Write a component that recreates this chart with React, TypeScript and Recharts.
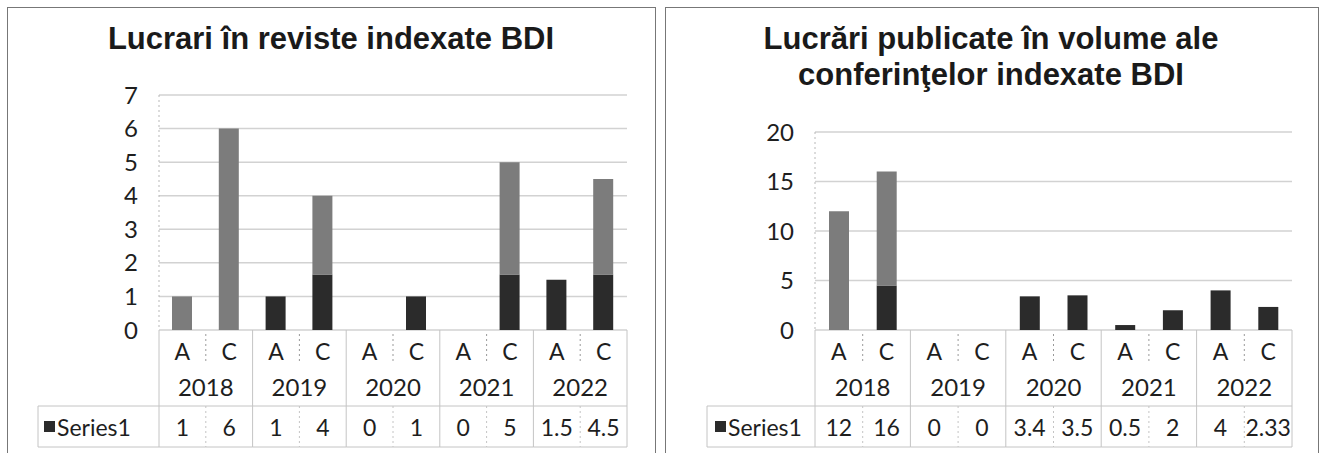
import React from "react";
import { BarChart, Bar, XAxis, YAxis, CartesianGrid } from "recharts";

const years = ["2018", "2018", "2019", "2019", "2020", "2020", "2021", "2021", "2022", "2022"];
const types = ["A", "C", "A", "C", "A", "C", "A", "C", "A", "C"];

// Lucrari in reviste indexate BDI
const journalValues = [1, 6, 1, 4, 0, 1, 0, 5, 1.5, 4.5];
// the scan prints each bar in two tones: dark lower part, grey upper part
const journalDarkTone = [0, 0, 1, 1.65, 0, 1, 0, 1.65, 1.5, 1.65];
const journalLightTone = [1, 6, 0, 2.35, 0, 0, 0, 3.35, 0, 2.85];
const journalTicks = [0, 1, 2, 3, 4, 5, 6, 7];

// Lucrari publicate in volume ale conferintelor indexate BDI
const conferenceValues = [12, 16, 0, 0, 3.4, 3.5, 0.5, 2, 4, 2.33];
const conferenceDarkTone = [0, 4.5, 0, 0, 3.4, 3.5, 0.5, 2, 4, 2.33];
const conferenceLightTone = [12, 11.5, 0, 0, 0, 0, 0, 0, 0, 0];
const conferenceTicks = [0, 5, 10, 15, 20];

const DARK = "#2b2b2b";
const LIGHT = "#7c7c7c";
const LINE = "#c4c4c4";
const TEXT = "#1e1e1e";
const FONT = "Lato, 'Open Sans', sans-serif";

const ROW1 = 38; // A / C row
const ROW2 = 38; // year row
const ROW3 = 41; // data table row
const HEIGHT = 453;
const PLOT_BOTTOM = 330;

interface PanelProps {
  left: number;
  width: number;
  titleLines: string[];
  values: number[];
  dark: number[];
  light: number[];
  ticks: number[];
  plotLeft: number;
  plotRight: number;
  plotTop: number;
  legendLeft: number;
  legendSquare: number;
}

function Panel(p: PanelProps) {
  const colW = (p.plotRight - p.plotLeft) / years.length;
  const data = years.map((y, i) => ({
    key: `${y}-${types[i]}`,
    dark: p.dark[i],
    light: p.light[i],
  }));
  const yMax = p.ticks[p.ticks.length - 1];

  const TypeTick = ({ x, y, index }: any) => {
    const half = colW / 2;
    return (
      <g>
        <text x={x} y={y + 21} textAnchor="middle" dominantBaseline="central"
          fontSize={23} fontFamily={FONT} fill={TEXT}>
          {types[index]}
        </text>
        {index % 2 === 0 ? (
          <line x1={x + half} x2={x + half} y1={y + 4} y2={y + ROW1 - 6}
            stroke="#999" strokeDasharray="2 3" />
        ) : (
          <line x1={x + half} x2={x + half} y1={y} y2={y + ROW1 + ROW2}
            stroke={LINE} />
        )}
        {index === 0 && (
          <line x1={x - half} x2={x - half} y1={y} y2={y + ROW1 + ROW2}
            stroke={LINE} />
        )}
      </g>
    );
  };

  const YearTick = ({ x, y, index }: any) => {
    if (index % 2 !== 0) return <g />;
    return (
      <text x={x + colW / 2} y={y + 18} textAnchor="middle" dominantBaseline="central"
        fontSize={24} fontFamily={FONT} fill={TEXT}>
        {years[index]}
      </text>
    );
  };

  const ValueTick = ({ x, y, index }: any) => {
    const half = colW / 2;
    return (
      <g>
        <line x1={x - half} x2={x + half} y1={y} y2={y} stroke={LINE} />
        <line x1={x - half} x2={x + half} y1={y + ROW3} y2={y + ROW3} stroke={LINE} />
        <line x1={x + half} x2={x + half} y1={y} y2={y + ROW3} stroke={LINE}
          strokeDasharray={index % 2 === 0 ? "2 3" : undefined} />
        <text x={x} y={y + 21} textAnchor="middle" dominantBaseline="central"
          fontSize={23} fontFamily={FONT} fill={TEXT}>
          {String(p.values[index])}
        </text>
        {index === 0 && (
          <g>
            <line x1={p.legendLeft} x2={x - half} y1={y} y2={y} stroke={LINE} />
            <line x1={p.legendLeft} x2={x - half} y1={y + ROW3} y2={y + ROW3} stroke={LINE} />
            <line x1={p.legendLeft} x2={p.legendLeft} y1={y} y2={y + ROW3} stroke={LINE} />
            <line x1={x - half} x2={x - half} y1={y} y2={y + ROW3} stroke={LINE} />
            <rect x={p.legendSquare} y={y + 15} width={11} height={11} fill={DARK} />
            <text x={p.legendSquare + 13} y={y + 21} dominantBaseline="central"
              fontSize={23} fontFamily={FONT} fill={TEXT}>
              Series1
            </text>
          </g>
        )}
      </g>
    );
  };

  return (
    <div style={{ position: "absolute", left: p.left, top: 0, width: p.width, height: HEIGHT }}>
      <div
        style={{
          position: "absolute",
          left: 0,
          top: 21,
          width: p.width,
          textAlign: "center",
          fontFamily: "'Liberation Sans', Arial, sans-serif",
          fontWeight: "bold",
          fontSize: 31,
          lineHeight: "36px",
          color: "#1a1a1a",
        }}
      >
        {p.titleLines.map((t) => (
          <div key={t}>{t}</div>
        ))}
      </div>
      <BarChart
        width={p.width}
        height={HEIGHT}
        data={data}
        margin={{
          top: p.plotTop,
          right: p.width - p.plotRight,
          bottom: HEIGHT - PLOT_BOTTOM - ROW1 - ROW2 - ROW3,
          left: 0,
        }}
        barSize={20}
      >
        <CartesianGrid xAxisId="r1" vertical={false} stroke="#d2d2d2" strokeWidth={1.5} />
        <YAxis
          type="number"
          domain={[0, yMax]}
          ticks={p.ticks}
          interval={0}
          width={p.plotLeft}
          tickLine={false}
          tickSize={0}
          tickMargin={21}
          axisLine={{ stroke: "#b8b8b8", strokeDasharray: "2 3" }}
          tick={{ fontSize: 24, fill: TEXT, fontFamily: FONT }}
        />
        <XAxis xAxisId="r1" dataKey="key" height={ROW1} interval={0} axisLine={false}
          tickLine={false} tickSize={0} tickMargin={0} tick={<TypeTick />} />
        <XAxis xAxisId="r2" dataKey="key" height={ROW2} interval={0} axisLine={false}
          tickLine={false} tickSize={0} tickMargin={0} tick={<YearTick />} />
        <XAxis xAxisId="r3" dataKey="key" height={ROW3} interval={0} axisLine={false}
          tickLine={false} tickSize={0} tickMargin={0} tick={<ValueTick />} />
        <Bar xAxisId="r1" dataKey="dark" stackId="s" fill={DARK} isAnimationActive={false} />
        <Bar xAxisId="r1" dataKey="light" stackId="s" fill={LIGHT} isAnimationActive={false} />
      </BarChart>
    </div>
  );
}

export default function App() {
  return (
    <div style={{ position: "absolute", left: 0, top: 0, width: 1322, height: HEIGHT, background: "#fff", overflow: "hidden" }}>
      <div style={{ position: "absolute", left: 7, top: 7, width: 647, height: 470, border: "1px solid #777" }} />
      <div style={{ position: "absolute", left: 665, top: 7, width: 652, height: 470, border: "1px solid #777" }} />
      <Panel
        left={0}
        width={662}
        titleLines={["Lucrari în reviste indexate BDI"]}
        values={journalValues}
        dark={journalDarkTone}
        light={journalLightTone}
        ticks={journalTicks}
        plotLeft={159}
        plotRight={627}
        plotTop={95}
        legendLeft={38}
        legendSquare={44}
      />
      <Panel
        left={660}
        width={662}
        titleLines={["Lucrări publicate în volume ale", "conferinţelor indexate BDI"]}
        values={conferenceValues}
        dark={conferenceDarkTone}
        light={conferenceLightTone}
        ticks={conferenceTicks}
        plotLeft={155}
        plotRight={632}
        plotTop={132}
        legendLeft={47}
        legendSquare={55}
      />
    </div>
  );
}
